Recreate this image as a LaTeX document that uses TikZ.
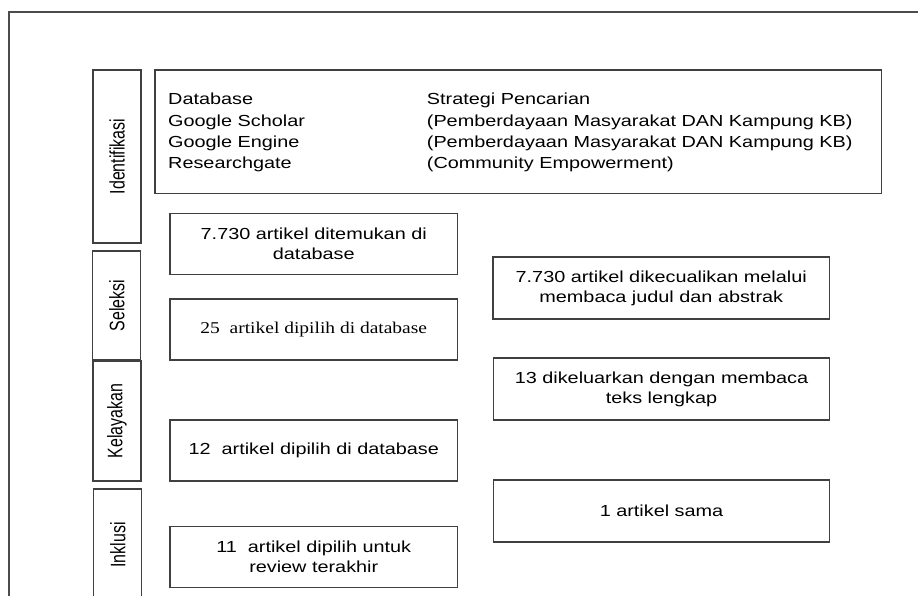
\documentclass[tikz,border=0pt]{standalone}
\usepackage{fontspec}
\setmainfont{Liberation Sans}
\newfontfamily\boxfont[FakeStretch=1.24]{Liberation Sans}
\newfontfamily\serfont[FakeStretch=1.18]{Liberation Serif}
\newfontfamily\sidefont[FakeStretch=0.76]{Liberation Sans}

\tikzset{
  sidebox/.style={draw=black!75, line width=1.2pt, rotate=90, inner sep=0pt,
    minimum height=48pt, font=\sidefont\fontsize{21}{24}\selectfont},
  flowbox/.style={draw=black!75, line width=1.2pt, align=center, inner sep=0pt,
    font=\boxfont\fontsize{16}{20}\selectfont},
  listline/.style={anchor=base west, inner sep=0pt,
    font=\boxfont\fontsize{16}{20}\selectfont}
}

\begin{document}
\begin{tikzpicture}[x=1pt,y=-1pt]

        \useasboundingbox (0,0) rectangle (918,596);
        \clip (0,0) rectangle (918,596);

        % frame
        \draw[black!70, line width=1.2pt] (9,620) |- (940,12);

        % stages
        \node[sidebox, minimum width=173pt] (ident) at (117,156.5) {Identifikasi};
        \node[sidebox, minimum width=109pt] (sel)   at (116.8,305.5) {Seleksi};
        \node[sidebox, minimum width=120pt] (elig)  at (117,421) {Kelayakan};
        \node[sidebox, minimum width=112pt] (incl)  at (117.8,545) {Inklusi};

        % search box
        \node[flowbox, minimum width=726.5pt, minimum height=123.5pt] (search) at (518.25,131.75) {};
        \foreach \i/\db/\st in {0/Database/Strategi Pencarian,
            1/Google Scholar/{(Pemberdayaan Masyarakat DAN Kampung KB)},
            2/Google Engine/{(Pemberdayaan Masyarakat DAN Kampung KB)},
            3/Researchgate/{(Community Empowerment)}}{
          \node[listline] (db\i) at (168,{105+21.3*\i}) {\db};
          \node[listline] (st\i) at (426.7,{105+21.3*\i}) {\st};
        }

        % left column
        \begin{scope}[every node/.style={flowbox, minimum width=287.5pt, minimum height=61pt}]
          \node (found) at (313.75,243.65) {7.730 artikel ditemukan di\\database};
          \node[font=\serfont\fontsize{16.5}{20}\selectfont] (screened) at (313.75,329.4) {25 \ artikel dipilih di database};
          \node (eligible) at (313.75,450.5) {12 \ artikel dipilih di database};
          \node (included) at (313.75,557) {11 \ artikel dipilih untuk\\review terakhir};
        \end{scope}

        % right column
        \begin{scope}[every node/.style={flowbox, minimum width=336.5pt, minimum height=62pt}]
          \node (excl1) at (661.25,288) {7.730 artikel dikecualikan melalui\\membaca judul dan abstrak};
          \node (excl2) at (661.5,389) {13 dikeluarkan dengan membaca\\teks lengkap};
          \node (dup)   at (661.5,511) {1 artikel sama};
        \end{scope}

      \end{tikzpicture}
\end{document}
